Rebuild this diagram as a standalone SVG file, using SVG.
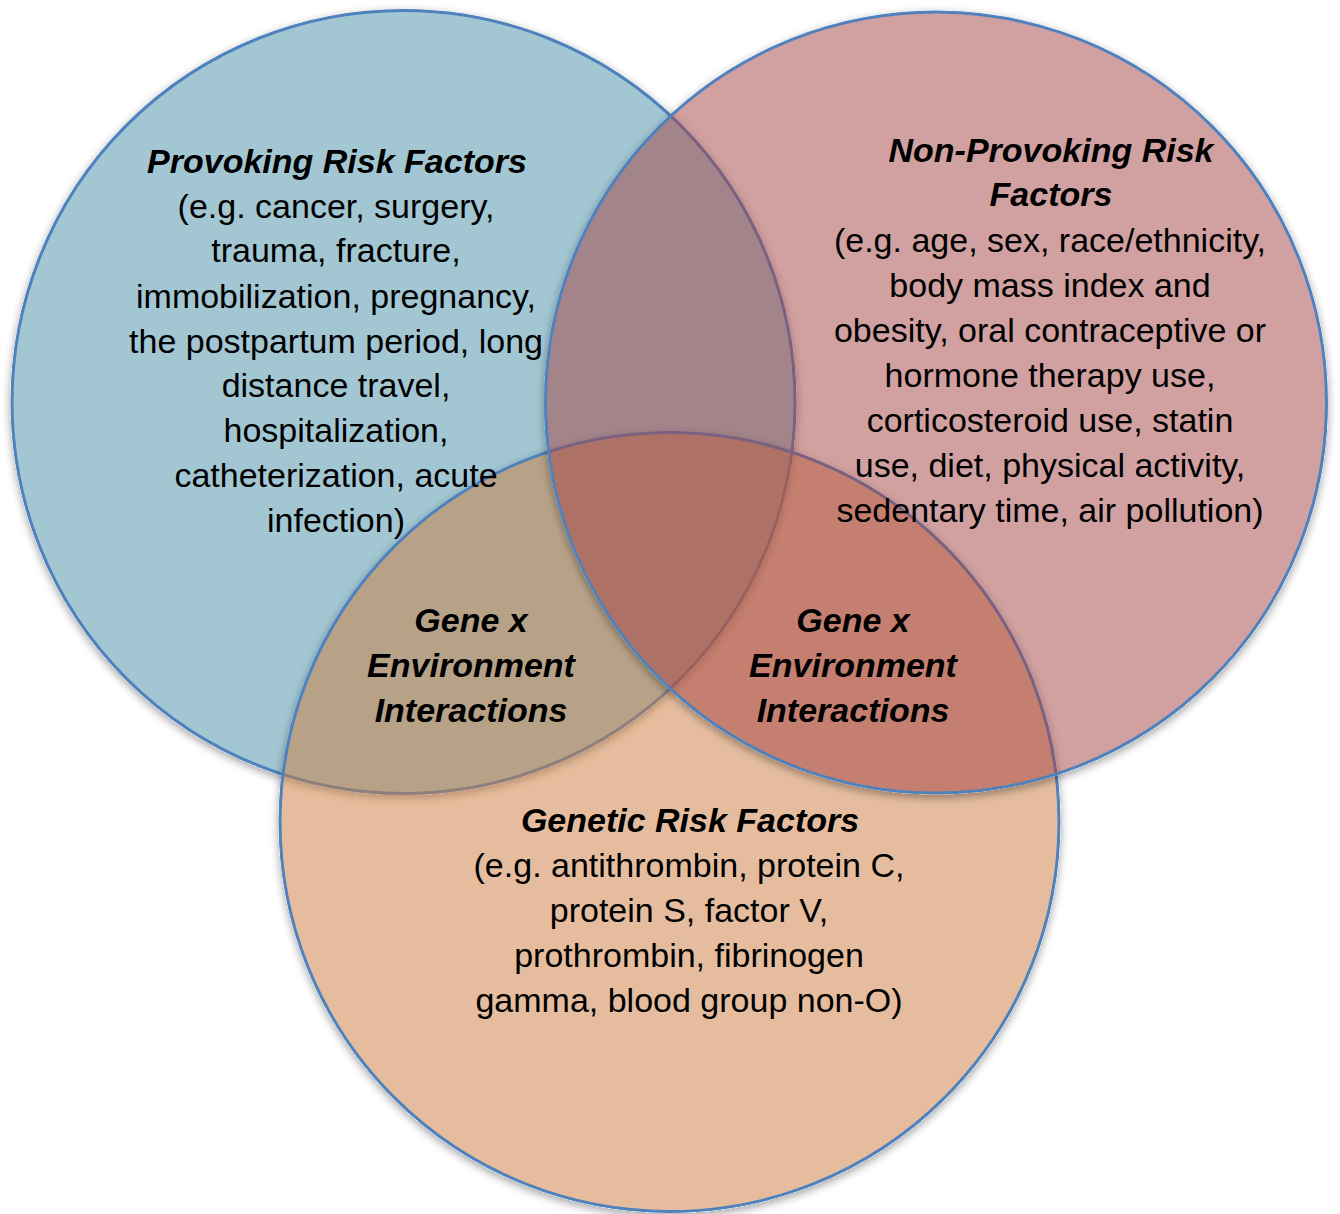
<svg xmlns="http://www.w3.org/2000/svg" width="1340" height="1214" viewBox="0 0 1340 1214">
  <style>
    .c { stroke: #4F81BD; stroke-width: 3; fill-opacity: 0.5; filter: url(#sh); }
    .t { font-family: "Liberation Sans", Arial, Helvetica, sans-serif; font-size: 34px; fill: #000; text-anchor: middle; }
    .h { font-weight: bold; font-style: italic; }
  </style>
  <defs>
    <filter id="sh" x="-10%" y="-10%" width="120%" height="120%">
      <feComponentTransfer in="SourceAlpha" result="solid">
        <feFuncA type="linear" slope="10" intercept="0"/>
      </feComponentTransfer>
      <feGaussianBlur in="solid" stdDeviation="4" result="blur"/>
      <feOffset in="blur" dx="0" dy="3" result="off"/>
      <feComposite in="off" in2="solid" operator="out" result="outer"/>
      <feColorMatrix in="outer" type="matrix" values="0 0 0 0 0  0 0 0 0 0  0 0 0 0 0  0 0 0 0.35 0" result="shadow"/>
      <feMerge>
        <feMergeNode in="shadow"/>
        <feMergeNode in="SourceGraphic"/>
      </feMerge>
    </filter>
  </defs>
  <rect width="1340" height="1214" fill="#ffffff"/>

  <g id="circles">
    <g id="provoking-circle">
      <circle class="c" cx="403.5" cy="402" r="391.5" fill="#478FA7"/>
    </g>
    <g id="genetic-circle">
      <circle class="c" cx="669.5" cy="822" r="389.5" fill="#CB7D3D"/>
    </g>
    <g id="nonprovoking-circle">
      <circle class="c" cx="936" cy="402.5" r="390.5" fill="#A34343"/>
    </g>
  </g>

  <g id="labels">
    <g id="provoking">
      <text class="t h" x="337" y="173">Provoking Risk Factors</text>
      <text class="t" x="336" y="218">(e.g. cancer, surgery,</text>
      <text class="t" x="336" y="262">trauma, fracture,</text>
      <text class="t" x="336" y="308">immobilization, pregnancy,</text>
      <text class="t" x="336" y="353">the postpartum period, long</text>
      <text class="t" x="336" y="397">distance travel,</text>
      <text class="t" x="336" y="442">hospitalization,</text>
      <text class="t" x="336" y="487">catheterization, acute</text>
      <text class="t" x="336" y="532">infection)</text>
    </g>
    <g id="nonprovoking">
      <text class="t h" x="1051" y="162">Non-Provoking Risk</text>
      <text class="t h" x="1051" y="206">Factors</text>
      <text class="t" x="1050" y="252">(e.g. age, sex, race/ethnicity,</text>
      <text class="t" x="1050" y="297">body mass index and</text>
      <text class="t" x="1050" y="342">obesity, oral contraceptive or</text>
      <text class="t" x="1050" y="387">hormone therapy use,</text>
      <text class="t" x="1050" y="432">corticosteroid use, statin</text>
      <text class="t" x="1050" y="477">use, diet, physical activity,</text>
      <text class="t" x="1050" y="522">sedentary time, air pollution)</text>
    </g>
    <g id="gxe-left">
      <text class="t h" x="471" y="632">Gene x</text>
      <text class="t h" x="471" y="677">Environment</text>
      <text class="t h" x="471" y="722">Interactions</text>
    </g>
    <g id="gxe-right">
      <text class="t h" x="853" y="632">Gene x</text>
      <text class="t h" x="853" y="677">Environment</text>
      <text class="t h" x="853" y="722">Interactions</text>
    </g>
    <g id="genetic">
      <text class="t h" x="690" y="832">Genetic Risk Factors</text>
      <text class="t" x="689" y="877">(e.g. antithrombin, protein C,</text>
      <text class="t" x="689" y="922">protein S, factor V,</text>
      <text class="t" x="689" y="967">prothrombin, fibrinogen</text>
      <text class="t" x="689" y="1012">gamma, blood group non-O)</text>
    </g>
  </g>
</svg>
